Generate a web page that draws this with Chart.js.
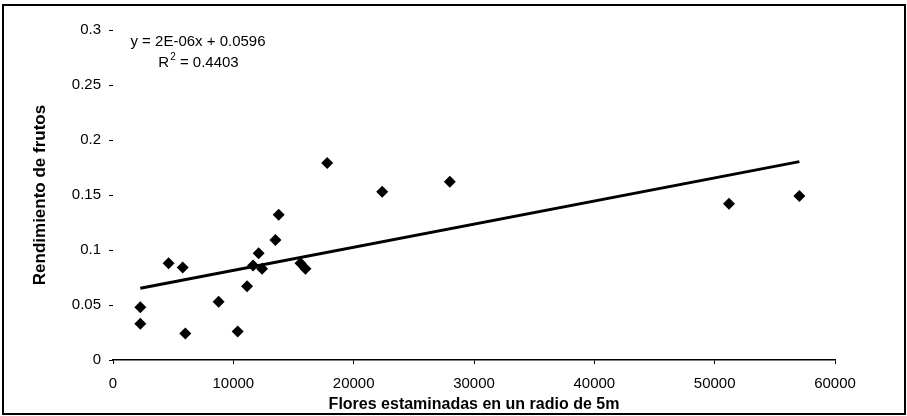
<!DOCTYPE html>
<html>
<head>
<meta charset="utf-8">
<script src="https://cdn.jsdelivr.net/npm/chart.js@4"></script>
<style>
  html, body { margin: 0; padding: 0; background: #fff; }
  #wrap { width: 907px; height: 416px; }
</style>
</head>
<body>
<div id="wrap"><canvas id="chart"></canvas></div>
<script>
// staminate flowers within 5 m radius vs. fruit yield
const flores = [2270, 2270, 4620, 5790, 6010, 8780, 10360, 11140, 11640, 12100,
  12390, 13500, 13770, 15580, 15990, 17800, 22370, 27990, 51190, 57040];
const rendimiento = [0.048, 0.033, 0.088, 0.084, 0.024, 0.053, 0.026, 0.067, 0.086, 0.097,
  0.083, 0.109, 0.132, 0.088, 0.083, 0.179, 0.153, 0.162, 0.142, 0.149];

const xTickLabels = ['0', '10000', '20000', '30000', '40000', '50000', '60000'];
const yTickLabels = ['0', '0.05', '0.1', '0.15', '0.2', '0.25', '0.3'];

const eqLines = ['y = 2E-06x + 0.0596', 'R', '2', ' = 0.4403'];

const FONT = '"Liberation Sans", Arial, sans-serif';

// least squares fit for the trend line
const n = flores.length;
const mx = flores.reduce((a, b) => a + b, 0) / n;
const my = rendimiento.reduce((a, b) => a + b, 0) / n;
let sxy = 0, sxx = 0;
for (let i = 0; i < n; i++) {
  sxy += (flores[i] - mx) * (rendimiento[i] - my);
  sxx += (flores[i] - mx) * (flores[i] - mx);
}
const slope = sxy / sxx;
const icpt = my - slope * mx;
const xMin = Math.min(...flores);
const xMax = Math.max(...flores);
const trend = [
  { x: xMin, y: icpt + slope * xMin },
  { x: xMax, y: icpt + slope * xMax }
];

const frameAndLabel = {
  id: 'frameAndLabel',
  afterDraw(chart) {
    const ctx = chart.ctx;
    ctx.save();
    // outer frame
    ctx.strokeStyle = '#000';
    ctx.lineWidth = 2;
    ctx.strokeRect(3, 5, 902, 409);

    // trendline equation
    ctx.fillStyle = '#000';
    ctx.font = '15px ' + FONT;
    ctx.textBaseline = 'middle';
    ctx.textAlign = 'center';
    const cx = chart.chartArea.left + 85;
    ctx.fillText(eqLines[0], cx, 42);

    const w1 = ctx.measureText(eqLines[1]).width;
    const w3 = ctx.measureText(eqLines[3]).width;
    ctx.font = '10px ' + FONT;
    const w2 = ctx.measureText(eqLines[2]).width;
    const startX = cx - (w1 + w2 + w3) / 2;
    ctx.textAlign = 'left';
    ctx.font = '15px ' + FONT;
    ctx.fillText(eqLines[1], startX, 63);
    ctx.font = '10px ' + FONT;
    ctx.fillText(eqLines[2], startX + w1 + 1, 57);
    ctx.font = '15px ' + FONT;
    ctx.fillText(eqLines[3], startX + w1 + w2 + 1, 63);
    ctx.restore();
  }
};

new Chart(document.getElementById('chart'), {
  type: 'scatter',
  data: {
    datasets: [
      {
        label: 'Rendimiento',
        data: flores.map((x, i) => ({ x: x, y: rendimiento[i] })),
        pointStyle: 'rectRot',
        pointRadius: 6,
        pointBackgroundColor: '#000',
        pointBorderColor: '#000',
        pointBorderWidth: 0
      },
      {
        label: 'Lineal',
        type: 'line',
        data: trend,
        borderColor: '#000',
        borderWidth: 3,
        pointRadius: 0,
        fill: false
      }
    ]
  },
  options: {
    responsive: true,
    maintainAspectRatio: false,
    animation: false,
    devicePixelRatio: 1,
    layout: { padding: { top: 30, right: 72, left: 0, bottom: 0 } },
    plugins: {
      legend: { display: false },
      tooltip: { enabled: false }
    },
    scales: {
      x: {
        type: 'linear',
        min: 0,
        max: 60000,
        afterFit: (s) => { s.height = 56; },
        ticks: {
          stepSize: 10000,
          color: '#000',
          padding: 11,
          maxRotation: 0,
          font: { family: FONT, size: 15 },
          callback: (v, i) => xTickLabels[i]
        },
        grid: { drawOnChartArea: false, color: '#000', tickLength: 4 },
        border: { display: true, color: '#000', width: 1.5 },
        title: {
          display: true,
          text: 'Flores estaminadas en un radio de 5m',
          color: '#000',
          font: { family: FONT, size: 16, weight: 'bold' },
          padding: { top: 0, bottom: 2 }
        }
      },
      y: {
        min: 0,
        max: 0.3,
        afterFit: (s) => { s.width = 113; },
        ticks: {
          stepSize: 0.05,
          color: '#000',
          padding: 8,
          font: { family: FONT, size: 15 },
          callback: (v, i) => yTickLabels[i]
        },
        grid: { drawOnChartArea: false, color: '#000', tickLength: 4 },
        border: { display: false },
        title: {
          display: true,
          text: 'Rendimiento de frutos',
          color: '#000',
          font: { family: FONT, size: 17, weight: 'bold' },
          padding: { top: 30, bottom: 0 }
        }
      }
    }
  },
  plugins: [frameAndLabel]
});
</script>
</body>
</html>
